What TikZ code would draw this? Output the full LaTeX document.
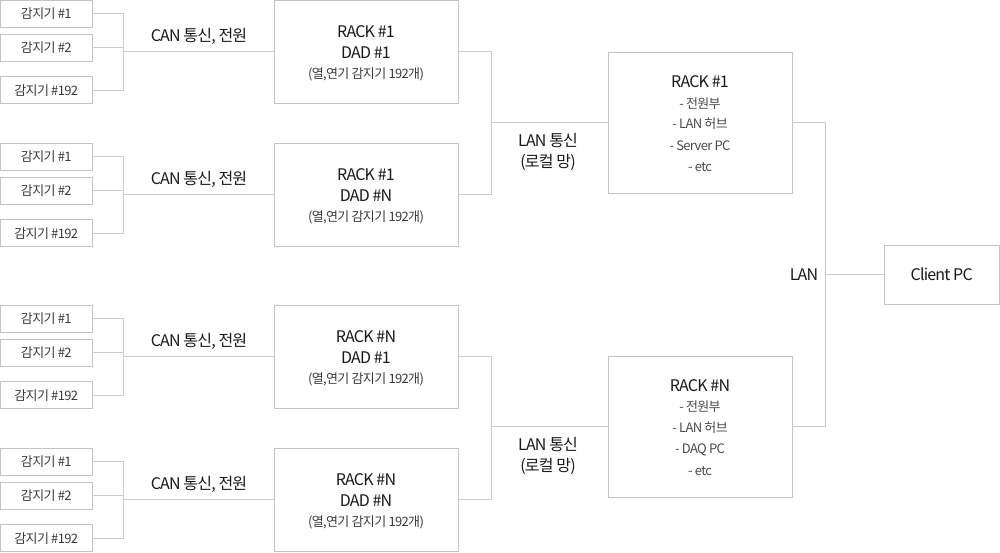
\documentclass[tikz,border=0pt]{standalone}
\usepackage{fontspec}
\setmainfont{Noto Sans CJK KR}[LetterSpace=-5]
\definecolor{lineg}{HTML}{CCCCCC}
\definecolor{boxg}{HTML}{C4C4C4}
\definecolor{txd}{HTML}{1A1A1A}
\definecolor{txs}{HTML}{3A3A3A}
\definecolor{txl}{HTML}{4A4A4A}
\begin{document}
\begin{tikzpicture}[x=1pt,y=-1pt,
  ln/.style={draw=lineg, line width=1pt},
  box/.style={draw=boxg, line width=1pt, inner sep=0pt, outer sep=0pt, fill=white},
  sen/.style={box, minimum width=91.5pt, minimum height=27pt},
  dad/.style={box, minimum width=184pt, minimum height=103.2pt},
  rack/.style={box, minimum width=184pt, minimum height=141pt},
  lbl/.style={inner sep=0pt, text depth=0pt, anchor=center},
  small/.style={lbl, text height=9.9pt, font=\fontsize{13}{15}\selectfont, text=txs},
  big/.style={lbl, text height=12.2pt, font=\fontsize{16}{18}\selectfont, text=txd},
  item/.style={lbl, text height=9.9pt, font=\fontsize{13}{15}\selectfont, text=txl}
]
\useasboundingbox (0,0) rectangle (1000,552);

% ---------- four sensor groups ----------
\foreach \g/\T/\ra/\da in {1/0/1/1, 2/143/1/N, 3/305/N/1, 4/448/N/N}{
  \node[sen] (s\g a) at (46.25,\T+13.8) {};
  \node[small] (s\g at) at (s\g a.center) {감지기 \#1};
  \node[sen] (s\g b) at (46.25,\T+47.8) {};
  \node[small] (s\g bt) at (s\g b.center) {감지기 \#2};
  \node[sen] (s\g c) at (46.25,\T+90.3) {};
  \node[small] (s\g ct) at (s\g c.center) {감지기 \#192};
  \node[dad] (d\g) at (366,\T+51.9) {};
  \node[big] (d\g t1) at (366,\T+31) {RACK \#\ra};
  \node[big] (d\g t2) at (366,\T+52.2) {DAD \#\da};
  \node[small] (d\g t3) at (366,\T+74) {(열,연기 감지기 192개)};
  \coordinate (b\g) at (123,\T+51.9);
  \draw[ln] (s\g a.east) -| (b\g);
  \draw[ln] (s\g c.east) -| (b\g);
  \draw[ln] (s\g b.east) -- (s\g b.east -| b\g);
  \draw[ln] (b\g) -- (d\g.west);
  \node[big] (can\g) at (199,\T+35) {CAN 통신, 전원};
}

% ---------- racks ----------
\node[rack] (r1) at (700,122.8) {};
\node[big]  (r1t1) at (700,122.8-41) {RACK \#1};
\node[item] (r1t2) at (700,122.8-19.7) {- 전원부};
\node[item] (r1t3) at (700,122.8+1.2) {- LAN 허브};
\node[item] (r1t4) at (700,122.8+22.3) {- Server PC};
\node[item] (r1t5) at (700,122.8+43.6) {- etc};

\node[rack] (r2) at (700,426.7) {};
\node[big]  (r2t1) at (700,426.7-41) {RACK \#N};
\node[item] (r2t2) at (700,426.7-19.7) {- 전원부};
\node[item] (r2t3) at (700,426.7+1.2) {- LAN 허브};
\node[item] (r2t4) at (700,426.7+22.3) {- DAQ PC};
\node[item] (r2t5) at (700,426.7+43.6) {- etc};

\coordinate (rb1) at (491.5,122.8);
\draw[ln] (d1.east) -| (rb1);
\draw[ln] (d2.east) -| (rb1);
\draw[ln] (rb1) -- (r1.west);
\node[big] (lan1a) at (548,122.8+17.5) {LAN 통신};
\node[big] (lan1b) at (548,122.8+38.5) {(로컬 망)};

\coordinate (rb2) at (491.5,426.7);
\draw[ln] (d3.east) -| (rb2);
\draw[ln] (d4.east) -| (rb2);
\draw[ln] (rb2) -- (r2.west);
\node[big] (lan2a) at (548,426.7+17.5) {LAN 통신};
\node[big] (lan2b) at (548,426.7+38.5) {(로컬 망)};

% ---------- client ----------
\node[box, minimum width=115pt, minimum height=58.7pt] (cl) at (941.7,274.7) {};
\node[big] (clt) at (cl.center) {Client PC};
\coordinate (cb) at (825.7,274.7);
\draw[ln] (r1.east) -| (cb);
\draw[ln] (r2.east) -| (cb);
\draw[ln] (cb) -- (cl.west);
\node[big] (lanr) at (804,274.7) {LAN};
\end{tikzpicture}
\end{document}
